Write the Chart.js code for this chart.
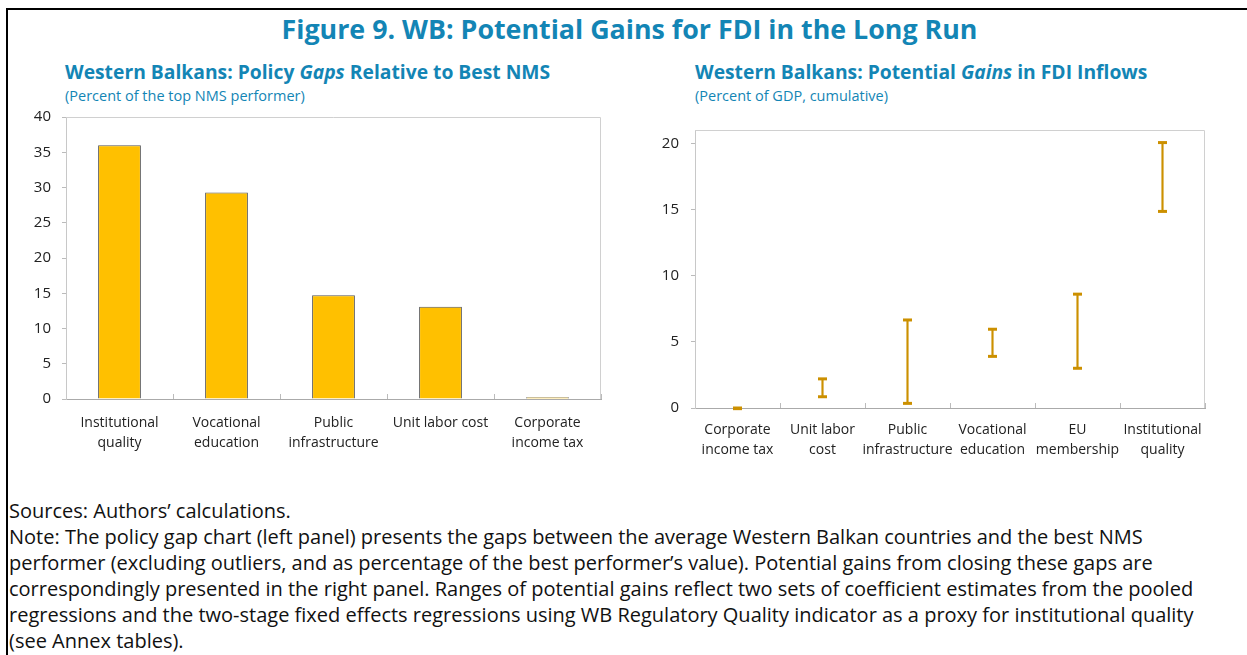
<!DOCTYPE html>
<html lang="en">
<head>
<meta charset="UTF-8">
<title>Figure 9. WB: Potential Gains for FDI in the Long Run</title>
<script src="https://cdn.jsdelivr.net/npm/chart.js@4.4.1/dist/chart.umd.min.js"></script>
<style>
    body {
        margin: 0;
        background: #fff;
        font-family: 'Open Sans', sans-serif;
        width: 1247px;
        height: 655px;
        overflow: hidden;
        position: relative;
    }
    .frame {
        position: absolute;
        left: 6px;
        top: 8px;
        width: 1300px;
        height: 700px;
        border-left: 2px solid #000;
        border-top: 2px solid #000;
    }
    .title {
        position: absolute;
        left: 0;
        width: 1259px;
        top: 10px;
        text-align: center;
        color: #1385b5;
        font-weight: bold;
        font-size: 26.8px;
        white-space: nowrap;
    }
    .sub {
        position: absolute;
        color: #1385b5;
        font-weight: bold;
        font-size: 19.3px;
        white-space: nowrap;
    }
    .unit {
        position: absolute;
        color: #1385b5;
        font-size: 14.5px;
        white-space: nowrap;
    }
    .box {
        position: absolute;
    }
    .notes {
        position: absolute;
        left: 9px;
        top: 498px;
        font-size: 20px;
        line-height: 26px;
        color: #111;
        white-space: nowrap;
    }
</style>
</head>
<body>
<div class="frame"></div>
<div class="title">Figure 9. WB: Potential Gains for FDI in the Long Run</div>

<div class="sub" style="left:65px; top:58px;">Western Balkans: Policy <i>Gaps</i> Relative to Best NMS</div>
<div class="unit" style="left:65px; top:86px;">(Percent of the top NMS performer)</div>
<div class="box" style="left:20px; top:97px; width:590px; height:363px;"><canvas id="gapChart"></canvas></div>

<div class="sub" style="left:695px; top:58px;">Western Balkans: Potential <i>Gains</i> in FDI Inflows</div>
<div class="unit" style="left:695px; top:86px;">(Percent of GDP, cumulative)</div>
<div class="box" style="left:640px; top:109px; width:600px; height:361px;"><canvas id="gainChart"></canvas></div>

<div class="notes">
    Sources: Authors’ calculations.<br>
    Note: The policy gap chart (left panel) presents the gaps between the average Western Balkan countries and the best NMS<br>
    performer (excluding outliers, and as percentage of the best performer’s value). Potential gains from closing these gaps are<br>
    correspondingly presented in the right panel. Ranges of potential gains reflect two sets of coefficient estimates from the pooled<br>
    regressions and the two-stage fixed effects regressions using WB Regulatory Quality indicator as a proxy for institutional quality<br>
    (see Annex tables).
</div>

<script>
    // left panel: policy gaps (percent of top NMS performer)
    const gapCategories = [['Institutional', 'quality'], ['Vocational', 'education'], ['Public', 'infrastructure'], 'Unit labor cost', ['Corporate', 'income tax']];
    const gapValues = [36.0, 29.3, 14.7, 13.1, 0.25];

    // right panel: potential gains range (percent of GDP, cumulative)
    const gainCategories = [['Corporate', 'income tax'], ['Unit labor', 'cost'], ['Public', 'infrastructure'], ['Vocational', 'education'], ['EU', 'membership'], ['Institutional', 'quality']];
    const gainLow = [-0.05, 0.85, 0.35, 3.9, 3.0, 14.85];
    const gainHigh = [0.0, 2.2, 6.65, 5.95, 8.6, 20.05];
    const gainTicks = [0, 5, 10, 15, 20];

    Chart.defaults.animation = false;
    Chart.defaults.font.family = "'Open Sans', sans-serif";
    Chart.defaults.color = '#222';

    const rangeColor = '#cc9000';
    const tickFont = { size: 14, lineHeight: 1.43 };

    // light frame on top/right of the plot area
    const plotBorder = {
        id: 'plotBorder',
        beforeDatasetsDraw(chart) {
            const { ctx, chartArea } = chart;
            ctx.save();
            ctx.strokeStyle = '#d0d0d0';
            ctx.lineWidth = 1;
            ctx.beginPath();
            ctx.moveTo(chartArea.left, chartArea.top + 0.5);
            ctx.lineTo(chartArea.right - 0.5, chartArea.top + 0.5);
            ctx.lineTo(chartArea.right - 0.5, chartArea.bottom);
            ctx.stroke();
            ctx.restore();
        }
    };

    new Chart(document.getElementById('gapChart'), {
        type: 'bar',
        data: {
            labels: gapCategories,
            datasets: [{
                data: gapValues,
                backgroundColor: '#ffc000',
                borderColor: '#555',
                borderWidth: 1,
                categoryPercentage: 1,
                barPercentage: 0.4
            }]
        },
        options: {
            responsive: true,
            maintainAspectRatio: false,
            layout: { padding: { top: 2, right: 9, left: 0, bottom: 0 } },
            plugins: { legend: { display: false }, tooltip: { enabled: false } },
            scales: {
                x: {
                    grid: { offset: true, drawOnChartArea: false, tickLength: -5, color: '#bbb' },
                    border: { color: '#aaa' },
                    ticks: { font: tickFont, padding: 19, maxRotation: 0, autoSkip: false },
                    afterFit(scale) { scale.height = 61; }
                },
                y: {
                    min: 0,
                    max: 40,
                    grid: { drawOnChartArea: false, tickLength: 4, color: '#bbb' },
                    border: { color: '#c8c8c8' },
                    ticks: { stepSize: 5, font: { size: 15 }, padding: 11 },
                    afterFit(scale) { scale.width = 46; }
                }
            }
        },
        plugins: [plotBorder]
    });

    new Chart(document.getElementById('gainChart'), {
        data: {
            labels: gainCategories,
            datasets: [{
                type: 'bar',
                data: gainLow.map((v, i) => [v, gainHigh[i]]),
                backgroundColor: rangeColor,
                barThickness: 1.5,
                borderWidth: 0
            }, {
                type: 'line',
                data: gainHigh,
                showLine: false,
                pointStyle: 'line',
                pointRadius: 4.5,
                pointBorderWidth: 3,
                borderColor: rangeColor,
                clip: false
            }, {
                type: 'line',
                data: gainLow,
                showLine: false,
                pointStyle: 'line',
                pointRadius: 4.5,
                pointBorderWidth: 3,
                borderColor: rangeColor,
                clip: false
            }]
        },
        options: {
            responsive: true,
            maintainAspectRatio: false,
            layout: { padding: { top: 2, right: 35, left: 0, bottom: 0 } },
            plugins: { legend: { display: false }, tooltip: { enabled: false } },
            scales: {
                x: {
                    offset: true,
                    grid: { offset: true, drawOnChartArea: false, tickLength: -5, color: '#bbb' },
                    border: { color: '#aaa' },
                    ticks: { font: tickFont, padding: 17, maxRotation: 0, autoSkip: false },
                    afterFit(scale) { scale.height = 62; }
                },
                y: {
                    min: 0,
                    max: 21,
                    grid: { drawOnChartArea: false, tickLength: 4, color: '#bbb' },
                    border: { color: '#c8c8c8' },
                    ticks: { font: { size: 15 }, padding: 12 },
                    afterBuildTicks(scale) { scale.ticks = gainTicks.map(v => ({ value: v })); },
                    afterFit(scale) { scale.width = 55; }
                }
            }
        },
        plugins: [plotBorder]
    });
</script>
</body>
</html>
